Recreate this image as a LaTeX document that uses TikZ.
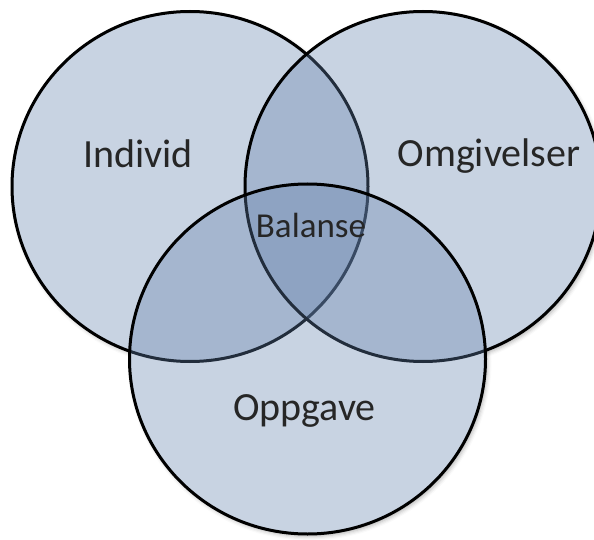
\documentclass[tikz,border=0pt]{standalone}
\usepackage{fontspec}
\setmainfont{Carlito}
\usetikzlibrary{shadows.blur}
\begin{document}
\begin{tikzpicture}[x=1pt,y=-1pt,
  setfill/.style={fill={rgb,255:red,100;green,130;blue,172}, fill opacity=0.35},
  setline/.style={draw=black, line width=3pt},
  setshadow/.style={blur shadow={shadow xshift=2pt, shadow yshift=-2.5pt,
      shadow blur radius=4pt, shadow opacity=30}},
  lbl/.style={anchor=base, text=black!85, font=\fontsize{40}{44}\selectfont},
  ]
\useasboundingbox (0,0) rectangle (594,540);
% centres of the three sets
\coordinate (ci) at (190,186.5);
\coordinate (co) at (423,186.5);
\coordinate (cp) at (307.5,359);
% soft shadows first, then an opaque white base under the tinted sets
\foreach \c in {ci,co,cp}
  \fill[white, setshadow] (\c) ellipse [x radius=178pt, y radius=175pt];
\foreach \c in {ci,co,cp}
  \fill[white] (\c) ellipse [x radius=178pt, y radius=175pt];
% translucent sets, drawn in order so overlaps darken
\foreach \c in {ci,co,cp}
  \draw[setfill, setline] (\c) ellipse [x radius=178pt, y radius=175pt];
% labels
\node[lbl] (individ) at (138,168) {Individ};
\node[lbl] (omgivelser) at (489,167) {Omgivelser};
\node[lbl, font=\fontsize{35}{40}\selectfont] (balanse) at (311,237) {Balanse};
\node[lbl] (oppgave) at (304.5,420) {Oppgave};
\end{tikzpicture}
\end{document}
